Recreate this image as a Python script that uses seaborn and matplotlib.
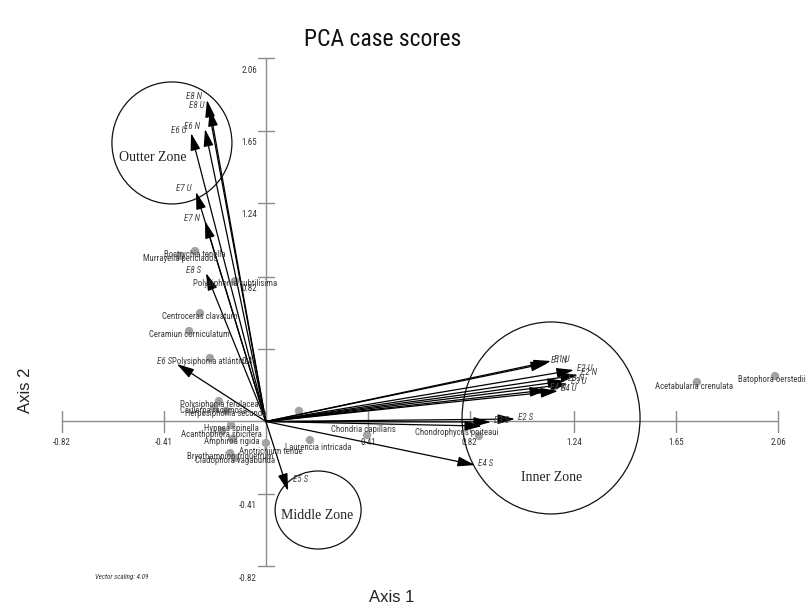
import numpy as np
import pandas as pd
import matplotlib
matplotlib.use("Agg")
import matplotlib.pyplot as plt
import seaborn as sns
from matplotlib.patches import Ellipse
from matplotlib import font_manager

# ---------------- data ----------------
species = ["Bostrychia tenella", "Murrayella periclados", "Polysiphonia subtilisima",
           "Centroceras clavatum", "Ceramiun corniculatum", "Polysiphonia atlántica",
           "Polysiphonia ferulacea", "Caulerpa racemosa", "Herposiphonia secunda", "",
           "Hypnea spinella", "Acanthophora spicifera", "Amphiroa rigida",
           "Anotrichium tenue", "Laurencia intricada", "Bryothamnion triquetrum",
           "Cladophora vagabunda", "Chondria capillaris", "Chondrophycus poiteaui",
           "Acetabularia crenulata", "Batophora oerstedii"]
axis1 = [-0.285, -0.346, -0.124, -0.265, -0.309, -0.225, -0.189, -0.209, -0.160, 0.133,
         -0.140, -0.177, -0.136, 0.000, 0.177, -0.144, -0.124, 0.407, 0.857, 1.734, 2.048]
axis2 = [0.967, 0.939, 0.797, 0.615, 0.513, 0.360, 0.116, 0.077, 0.060, 0.060,
         -0.020, -0.054, -0.099, -0.122, -0.105, -0.179, -0.207, -0.077, -0.082, 0.224, 0.258]

vectors = ["E8 N", "E8 U", "E6 N", "E6 U", "E7 U", "E7 N", "E8 S", "E6 S", "E5 S",
           "E1 N", "E1 U", "E2 U", "E2 N", "E3 N", "E3 U", "E4 N", "E4 U",
           "E3 S", "E2 S", "E1 S", "E4 S"]
vec_x = [-0.237, -0.225, -0.245, -0.301, -0.281, -0.245, -0.241, -0.358, 0.089,
         1.135, 1.147, 1.239, 1.255, 1.203, 1.215, 1.131, 1.175,
         0.905, 1.002, 0.869, 0.841]
vec_y = [1.824, 1.773, 1.659, 1.636, 1.302, 1.137, 0.842, 0.326, -0.394,
         0.332, 0.343, 0.292, 0.264, 0.230, 0.213, 0.179, 0.173,
         -0.003, 0.014, -0.026, -0.247]
vec_label_shown = [True] * 19 + [False, True]

x_ticks = [-0.82, -0.41, 0.41, 0.82, 1.24, 1.65, 2.06]
y_ticks = [-0.82, -0.41, 0.41, 0.82, 1.24, 1.65, 2.06]
x_tick_labels = ["-0.82", "-0.41", "0.41", "0.82", "1.24", "1.65", "2.06"]
y_tick_labels = ["-0.82", "-0.41", "0.41", "0.82", "1.24", "1.65", "2.06"]

zones = ["Outter Zone", "Inner Zone", "Middle Zone"]

# ---------------- style ----------------
sns.set_style("white")
names = {f.name for f in font_manager.fontManager.ttflist}
narrow = next((n for n in ["Liberation Sans Narrow", "DejaVu Sans Condensed",
                           "Roboto Condensed", "Liberation Sans"] if n in names), "DejaVu Sans")
serif = "Liberation Serif" if "Liberation Serif" in names else "DejaVu Serif"
sans = "Liberation Sans" if "Liberation Sans" in names else "DejaVu Sans"
plt.rcParams["font.family"] = [narrow, "DejaVu Sans"]

fig = plt.figure(figsize=(8.06, 6.10), dpi=100)
ax = fig.add_axes([0, 0, 1, 1])

axis_col = "#8c8c8c"
# axes through origin
ax.plot([min(x_ticks), max(x_ticks)], [0, 0], color=axis_col, lw=1.0, zorder=1)
ax.plot([0, 0], [min(y_ticks), max(y_ticks)], color=axis_col, lw=1.0, zorder=1)
for t, lab in zip(x_ticks, x_tick_labels):
    ax.plot([t, t], [-0.057, 0.057], color=axis_col, lw=1.0, zorder=1)
    ax.annotate(lab, (t, 0), xytext=(0, -21), textcoords="offset pixels",
                ha="center", va="center", fontsize=6.5, color="#333333")
for t, lab in zip(y_ticks, y_tick_labels):
    ax.plot([-0.032, 0.032], [t, t], color=axis_col, lw=1.0, zorder=1)
    ax.annotate(lab, (0, t), xytext=(-9, -12), textcoords="offset pixels",
                ha="right", va="center", fontsize=6.5, color="#333333")

# species points
df = pd.DataFrame({"species": species, "Axis 1": axis1, "Axis 2": axis2})
sns.scatterplot(data=df, x="Axis 1", y="Axis 2", color="#a3a3a3", s=36,
                edgecolor="none", ax=ax, zorder=3, legend=False)
ax.set_xlim(-1.0696, 2.1726)
ax.set_ylim(-1.0692, 2.3908)
ax.axis("off")

nudge = {"Anotrichium tenue": (5, 8), "Laurencia intricada": (8, 7),
         "Chondria capillaris": (-4, -6), "Chondrophycus poiteaui": (-22, -3),
         "Acetabularia crenulata": (-3, 4), "Batophora oerstedii": (-3, 3)}
for name, x, y in zip(species, axis1, axis2):
    if not name:
        continue
    dx, dy = nudge.get(name, (0, 3))
    ax.annotate(name, (x, y), xytext=(dx, -dy), textcoords="offset pixels",
                ha="center", va="center", fontsize=6.3, color="#3a3a3a", zorder=5)

# vectors
for name, x, y, show in zip(vectors, vec_x, vec_y, vec_label_shown):
    ax.annotate("", xy=(x, y), xytext=(0, 0),
                arrowprops=dict(arrowstyle="-|>,head_length=1.05,head_width=0.3",
                                mutation_scale=10, color="black", lw=0.9,
                                shrinkA=0, shrinkB=0), zorder=4)
    if not show:
        continue
    if name == "E5 S":
        off, ha = (5, 11), "left"
    elif x < 0:
        off, ha = (-5, 3), "right"
    else:
        off, ha = (3, 2), "left"
    ax.annotate(name, (x, y), xytext=off, textcoords="offset pixels",
                ha=ha, va="center", fontsize=6.5, style="italic",
                color="#444444", zorder=6)

# zones (hand-drawn overlays): centre in data units, radii in pixels
zone_centers = [(-0.378, 1.580), (1.147, 0.020), (0.210, -0.502)]
zone_rx_px = [60, 89, 43]
zone_ry_px = [61, 96, 39]
zone_text = [(-0.456, 1.500), (1.151, -0.320), (0.206, -0.536)]
px_x = 248.6
px_y = 176.3
for (cx, cy), rx, ry, (tx, ty), z in zip(zone_centers, zone_rx_px, zone_ry_px,
                                         zone_text, zones):
    ax.add_patch(Ellipse((cx, cy), 2 * rx / px_x, 2 * ry / px_y, fill=False,
                         edgecolor="#111111", lw=0.9, zorder=2))
    ax.text(tx, ty, z, ha="center", va="center", fontsize=10, family=serif,
            color="#222222", zorder=6)

fig.text(383 / 806, 1 - 40 / 610, "PCA case scores", ha="center", va="center",
         fontsize=17, color="#111111")
fig.text(392 / 806, 1 - 597 / 610, "Axis 1", ha="center", va="center",
         fontsize=12, family=sans, color="#222222")
fig.text(25 / 806, 1 - 390 / 610, "Axis 2", ha="center", va="center",
         fontsize=12, family=sans, rotation=90, color="#222222")
fig.text(95 / 806, 1 - 577 / 610, "Vector scaling: 4.09", ha="left", va="center",
         fontsize=5, style="italic", color="#333333")

fig.savefig("out.png", dpi=100)
